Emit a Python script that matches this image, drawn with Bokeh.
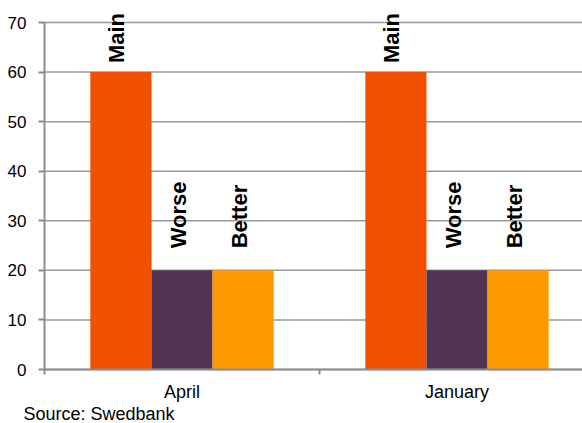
import math
from bokeh.plotting import figure
from bokeh.models import ColumnDataSource, Range1d, FixedTicker, LinearAxis
from bokeh.core.properties import value
from bokeh.embed import file_html
from bokeh.resources import INLINE

# ---- data ----
categories = ["April", "January"]
series_names = ["Main", "Worse", "Better"]
main = [60, 60]
worse = [20, 20]
better = [20, 20]
y_ticks = [0, 10, 20, 30, 40, 50, 60, 70]
source_note = "Source: Swedbank"

# ---- styles / layout ----
colors = {"Main": "#F05000", "Worse": "#523553", "Better": "#FF9900"}
label_lift = {"Main": 9, "Worse": 22, "Better": 22}
FONT = "Liberation Sans"

W, H = 582, 423
cat_px = 275.0
gap_left = 44         # px left of the value axis
gap_top = 22          # px above the top gridline
gap_bottom = 54       # px below the zero line
y_max = max(y_ticks)
ppu = (H - gap_top - gap_bottom) / y_max
x_end = (W - gap_left) / cat_px
n_series = len(series_names)
group_frac = 2.0 / 3.0
bar_w = group_frac / n_series
pad = (1 - group_frac) / 2

p = figure(width=W, height=H, output_backend="svg", toolbar_location=None,
           x_range=Range1d(-gap_left / cat_px, x_end),
           y_range=Range1d(-gap_bottom / ppu, y_max + gap_top / ppu),
           x_axis_location=None, y_axis_location=None,
           min_border=0)
p.outline_line_color = None
p.background_fill_color = "white"
p.border_fill_color = "white"
p.xgrid.visible = False
p.ygrid.visible = False

# horizontal gridlines, from the value axis to the right edge
grid_src = ColumnDataSource(dict(y=y_ticks))
p.segment(x0=0, x1=x_end, y0="y", y1="y", source=grid_src,
          line_color="#999999", line_width=1.5)

values = {"Main": main, "Worse": worse, "Better": better}
for j, name in enumerate(series_names):
    xs = [i + pad + (j + 0.5) * bar_w for i in range(len(categories))]
    src = ColumnDataSource(dict(x=xs, top=values[name],
                                lab=[name] * len(categories)))
    p.vbar(x="x", top="top", bottom=0, width=bar_w, source=src,
           fill_color=colors[name], line_color=None)
    p.text(x="x", y="top", text="lab", source=src, angle=math.pi / 2,
           text_align="left", text_baseline="middle",
           text_font=value(FONT), text_font_style="bold",
           text_font_size="22px", text_color="black",
           x_offset=-4, y_offset=-label_lift[name])

# y axis on x = 0
ya = LinearAxis(fixed_location=0, ticker=FixedTicker(ticks=y_ticks),
                bounds=(0, y_max))
ya.axis_line_color = "#8c8c8c"
ya.axis_line_width = 2
ya.major_tick_line_color = "#8c8c8c"
ya.major_tick_line_width = 2
ya.major_tick_out = 6
ya.major_tick_in = 0
ya.minor_tick_line_color = None
ya.major_label_text_font = FONT
ya.major_label_text_font_size = "17px"
ya.major_label_text_color = "black"
ya.major_label_standoff = 12
p.add_layout(ya, "left")

# x axis on the zero line
centers = [i + 0.5 for i in range(len(categories))]
bounds = [float(i) for i in range(len(categories) + 1)]
xa = LinearAxis(fixed_location=0,
                ticker=FixedTicker(ticks=centers, minor_ticks=bounds),
                bounds=(0, x_end))
xa.major_label_overrides = {c: lab for c, lab in zip(centers, categories)}
xa.axis_line_color = "#8c8c8c"
xa.axis_line_width = 2
xa.major_tick_line_color = None
xa.major_tick_out = 0
xa.major_tick_in = 0
xa.minor_tick_line_color = "#8c8c8c"
xa.minor_tick_line_width = 2
xa.minor_tick_out = 5
xa.minor_tick_in = 0
xa.major_label_text_font = FONT
xa.major_label_text_font_size = "18px"
xa.major_label_text_color = "black"
xa.major_label_standoff = 7
p.add_layout(xa, "below")

# source note under the axis
note = ColumnDataSource(dict(x=[0], y=[0], t=[source_note]))
p.text(x="x", y="y", text="t", source=note, text_align="left",
       text_baseline="middle", text_font=value(FONT),
       text_font_size="18px", text_color="black",
       x_offset=-21, y_offset=44)

open("out.html", "w").write(file_html(p, INLINE))
